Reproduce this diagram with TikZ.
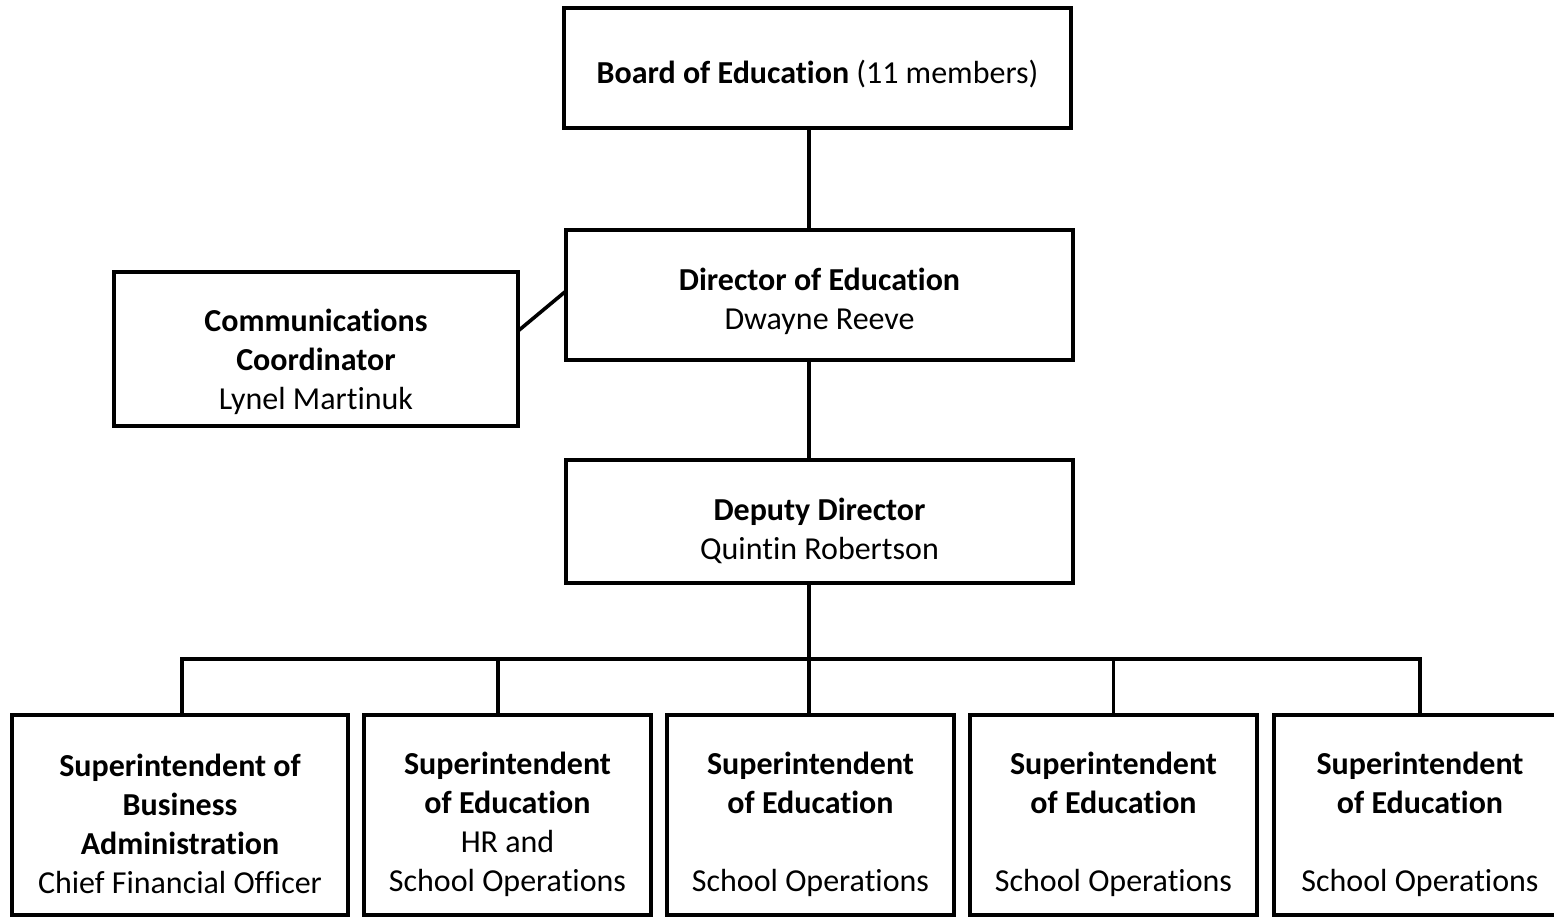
\documentclass[tikz,border=0pt]{standalone}
\usepackage{fontspec}
\setmainfont[Ligatures=NoCommon]{Carlito}
\begin{document}
\begin{tikzpicture}[x=1pt,y=-1pt,
  box/.style={draw=black, line width=3.6pt, rectangle, inner sep=0pt},
  txt/.style={inner sep=0pt, align=center, font=\fontsize{32}{39}\selectfont},
  link/.style={draw=black, line width=3.6pt}]
\useasboundingbox (0,0) rectangle (1554,918);
\node[box, minimum width=507pt, minimum height=120pt] (board) at (817.5,68) {};
\node[box, minimum width=507pt, minimum height=130pt] (dir) at (819.5,295) {};
\node[box, minimum width=404pt, minimum height=154pt] (comm) at (316,349) {};
\node[box, minimum width=507pt, minimum height=123pt] (dep) at (819.5,521.5) {};
\node[box, minimum width=336pt, minimum height=200pt] (b1) at (180,815) {};
\node[box, minimum width=287pt, minimum height=200pt] (b2) at (507.5,815) {};
\node[box, minimum width=287pt, minimum height=200pt] (b3) at (810.5,815) {};
\node[box, minimum width=287pt, minimum height=200pt] (b4) at (1113.5,815) {};
\node[box, minimum width=292pt, minimum height=200pt] (b5) at (1420,815) {};
\node[txt] (boardt) at ([yshift=-6pt]board.center) {\textbf{Board of Education} (11 members)};
\node[txt] (dirt) at ([yshift=-6pt]dir.center) {\textbf{Director of Education}\\Dwayne Reeve};
\node[txt] (commt) at ([yshift=-13pt]comm.center) {\textbf{Communications}\\\textbf{Coordinator}\\Lynel Martinuk};
\node[txt] (dept) at ([yshift=-9pt]dep.center) {\textbf{Deputy Director}\\Quintin Robertson};
\node[txt] (b1t) at ([yshift=-9pt]b1.center) {\textbf{Superintendent of}\\\textbf{Business}\\\textbf{Administration}\\Chief Financial Officer};
\node[txt] (b2t) at ([yshift=-9pt]b2.center) {\textbf{Superintendent}\\\textbf{of Education}\\HR and\\School Operations};
\node[txt] (b3t) at ([yshift=-9pt]b3.center) {\textbf{Superintendent}\\\textbf{of Education}\\\mbox{}\\School Operations};
\node[txt] (b4t) at ([yshift=-9pt]b4.center) {\textbf{Superintendent}\\\textbf{of Education}\\\mbox{}\\School Operations};
\node[txt] (b5t) at ([yshift=-9pt]b5.center) {\textbf{Superintendent}\\\textbf{of Education}\\\mbox{}\\School Operations};
\coordinate (bus) at (809,659);
\coordinate (cl) at (518,331);
\coordinate (dl) at (566,291);
\draw[link] (board.south -| bus) -- (dir.north -| bus);
\draw[link] (dir.south -| bus) -- (dep.north -| bus);
\draw[link] (dep.south -| bus) -- (bus);
\draw[link] (cl) -- (dl);
\draw[link] ([xshift=2pt]b1.north) |- (bus) -| (b5.north);
\draw[link] ([xshift=-9.5pt]b2.north) -- ([xshift=-9.5pt]b2.north |- bus);
\draw[link] (b3.north -| bus) -- (bus);
\draw[link] (b4.north) -- (b4.north |- bus);
\end{tikzpicture}
\end{document}
